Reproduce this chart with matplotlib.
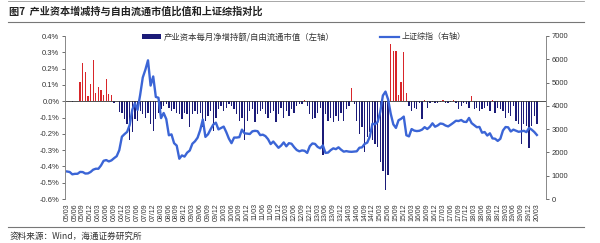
import matplotlib
matplotlib.use("Agg")
import matplotlib.pyplot as plt
from matplotlib.patches import Patch
from matplotlib.lines import Line2D
from matplotlib.ticker import FuncFormatter
import numpy as np

plt.rcParams['font.family'] = ['Liberation Sans', 'Noto Sans CJK SC', 'DejaVu Sans']
plt.rcParams['axes.unicode_minus'] = False

# ---------------- data ----------------
# months 2005/03 ... 2020/03 (monthly)
years = list(range(2005, 2021))
months = [(y, m) for y in years for m in range(1, 13) if (y, m) >= (2005, 3) and (y, m) <= (2020, 3)]
tick_labels = [f"{y % 100:02d}/{m:02d}" for (y, m) in months if m in (3, 6, 9, 12)]

# net increase/decrease of holdings by industrial capital / free-float market cap (%), left axis
ratio_2005 = [0.0, 0.002, -0.003, 0.002, 0.0, 0.12, 0.237, 0.18, 0.03, 0.107]
ratio_2006 = [0.255, 0.05, 0.09, 0.066, 0.04, 0.134, 0.047, 0.04, -0.01, 0.0, -0.064, -0.07]
ratio_2007 = [-0.11, -0.14, -0.24, -0.19, -0.11, -0.12, -0.06, -0.08, -0.10, -0.07, -0.14, -0.18]
ratio_2008 = [-0.11, -0.07, -0.05, -0.03, -0.02, -0.04, -0.06, -0.05, -0.07, -0.08, -0.11, -0.07]
ratio_2009 = [-0.08, -0.16, -0.08, -0.06, -0.08, -0.07, -0.16, -0.12, -0.09, -0.06, -0.18, -0.10]
ratio_2010 = [-0.05, -0.03, -0.06, -0.04, -0.02, -0.03, -0.05, -0.08, -0.12, -0.10, -0.24, -0.12]
ratio_2011 = [-0.06, -0.05, -0.13, -0.08, -0.06, -0.05, -0.08, -0.10, -0.07, -0.06, -0.13, -0.08]
ratio_2012 = [-0.04, -0.10, -0.06, -0.09, -0.05, -0.07, -0.03, -0.02, -0.02, 0.01, -0.03, -0.08]
ratio_2013 = [-0.11, -0.10, -0.07, -0.04, -0.33, -0.08, -0.12, -0.10, -0.13, -0.09, -0.12, -0.07]
ratio_2014 = [-0.12, -0.05, -0.03, 0.084, -0.02, -0.12, -0.20, -0.16, -0.31, -0.22, -0.19, -0.24]
ratio_2015 = [-0.26, -0.28, -0.37, -0.43, -0.545, -0.45, 0.35, 0.31, 0.31, 0.04, 0.12, 0.30]
ratio_2016 = [0.05, -0.03, -0.06, -0.04, -0.05, -0.01, -0.11, 0.01, -0.04, -0.01, -0.005, -0.01]
ratio_2017 = [-0.01, -0.005, 0.005, -0.01, -0.01, -0.005, 0.01, -0.01, -0.05, -0.03, -0.01, -0.02]
ratio_2018 = [-0.04, 0.03, -0.05, -0.04, -0.06, -0.05, -0.04, -0.03, -0.06, 0.01, -0.07, -0.04]
ratio_2019 = [-0.05, -0.06, -0.10, -0.07, -0.09, -0.03, -0.12, -0.14, -0.26, -0.14, -0.15, -0.29]
ratio_2020 = [-0.15, -0.09, -0.14]

# Shanghai Composite Index, monthly close, right axis
sh_2005 = [1181, 1159, 1060, 1081, 1083, 1163, 1156, 1093, 1100, 1161]
sh_2006 = [1259, 1300, 1299, 1441, 1642, 1672, 1613, 1658, 1753, 1838, 2099, 2675]
sh_2007 = [2786, 2882, 3184, 3841, 4110, 3821, 4472, 5219, 5553, 5955, 4871, 5262]
sh_2008 = [4383, 4349, 3473, 3693, 3433, 2736, 2776, 2397, 2294, 1729, 1872, 1821]
sh_2009 = [1991, 2082, 2373, 2478, 2633, 2959, 3412, 2667, 2779, 2996, 3195, 3277]
sh_2010 = [2989, 3051, 3110, 2871, 2592, 2398, 2638, 2639, 2656, 2979, 2820, 2808]
sh_2011 = [2791, 2906, 2928, 2912, 2743, 2762, 2701, 2568, 2359, 2469, 2333, 2199]
sh_2012 = [2293, 2429, 2263, 2397, 2373, 2225, 2103, 2047, 2086, 2069, 1980, 2269]
sh_2013 = [2385, 2366, 2237, 2178, 2301, 1979, 1994, 2098, 2175, 2141, 2220, 2116]
sh_2014 = [2033, 2056, 2033, 2026, 2039, 2048, 2202, 2217, 2364, 2420, 2683, 3235]
sh_2015 = [3210, 3310, 3748, 4442, 4612, 4277, 3664, 3206, 3053, 3383, 3445, 3539]
sh_2016 = [2738, 2688, 3004, 2938, 2917, 2930, 2979, 3085, 3005, 3100, 3250, 3104]
sh_2017 = [3159, 3242, 3223, 3155, 3117, 3192, 3273, 3361, 3349, 3393, 3317, 3307]
sh_2018 = [3481, 3259, 3169, 3082, 3095, 2847, 2876, 2725, 2821, 2603, 2588, 2494]
sh_2019 = [2585, 2941, 3091, 3078, 2899, 2979, 2933, 2886, 2905, 2929, 2872, 3050]
sh_2020 = [2977, 2880, 2750]

ratio = np.array(ratio_2005 + ratio_2006 + ratio_2007 + ratio_2008 + ratio_2009 + ratio_2010 +
                 ratio_2011 + ratio_2012 + ratio_2013 + ratio_2014 + ratio_2015 + ratio_2016 +
                 ratio_2017 + ratio_2018 + ratio_2019 + ratio_2020)
shindex = np.array(sh_2005 + sh_2006 + sh_2007 + sh_2008 + sh_2009 + sh_2010 + sh_2011 +
                   sh_2012 + sh_2013 + sh_2014 + sh_2015 + sh_2016 + sh_2017 + sh_2018 +
                   sh_2019 + sh_2020)

title = "图7  产业资本增减持与自由流通市值比值和上证综指对比"
legend_bar = "产业资本每月净增持额/自由流通市值（左轴）"
legend_line = "上证综指（右轴）"
source = "资料来源：Wind，海通证券研究所"

# ---------------- figure ----------------
W, H = 600, 243
fig = plt.figure(figsize=(W / 100, H / 100), dpi=100)
ax = fig.add_axes([65 / W, 1 - 199 / H, (546 - 65) / W, (199 - 36) / H])
ax2 = ax.twinx()

x = np.arange(len(months))
navy = "#1b1b78"
red = "#d8262a"
colors = [red if v > 0 else navy for v in ratio]
ax.bar(x, ratio, width=0.5, color=colors, linewidth=0)
ax.axhline(0, color="#333333", lw=0.6, zorder=3)

ax.set_ylim(-0.6, 0.4)
ax.set_yticks(np.arange(-0.6, 0.41, 0.1))
ax.yaxis.set_major_formatter(FuncFormatter(lambda v, p: f"{v:.1f}%" if abs(v) > 1e-9 else "0.0%"))
ax.set_xlim(-0.8, 183.5)
tick_pos = [i for i, (y, m) in enumerate(months) if m in (3, 6, 9, 12)]
ax.set_xticks(tick_pos)
ax.set_xticklabels(tick_labels, rotation=90, fontsize=5, color="#333333")
ax.tick_params(axis="x", length=0, pad=3)
ax.tick_params(axis="y", labelsize=5.5, colors="#333333", length=2, width=0.5, pad=2)

ax2.plot(x, shindex, color="#3b65d6", lw=1.7, solid_joinstyle="round")
ax2.set_ylim(0, 7000)
ax2.set_yticks(np.arange(0, 7001, 1000))
ax2.tick_params(axis="y", labelsize=5.5, colors="#333333", length=2, width=0.5, pad=2)

for a in (ax, ax2):
    a.spines["top"].set_visible(False)
    a.spines["bottom"].set_visible(False)
    a.spines["left"].set_color("#888888")
    a.spines["right"].set_color("#888888")
    a.spines["left"].set_linewidth(0.6)
    a.spines["right"].set_linewidth(0.6)
    a.patch.set_visible(False)

# legends
h1 = Patch(facecolor=navy, edgecolor="none")
h2 = Line2D([0], [0], color="#3b65d6", lw=1.6)
fig.legend([h1], [legend_bar], loc="center left", bbox_to_anchor=(142 / W, 1 - 37 / H),
           frameon=False, prop={"family": ["Noto Sans CJK SC", "DejaVu Sans"], "size": 6.0},
           handlelength=2.3, handleheight=0.45, handletextpad=0.3,
           borderaxespad=0, borderpad=0, labelcolor="#333333")
fig.legend([h2], [legend_line], loc="center left", bbox_to_anchor=(380 / W, 1 - 37 / H),
           frameon=False, prop={"family": ["Noto Sans CJK SC", "DejaVu Sans"], "size": 5.8},
           handlelength=2.4, handletextpad=0.3,
           borderaxespad=0, borderpad=0, labelcolor="#333333")

# title & rules
fig.text(9 / W, 1 - 12 / H, title, fontsize=7.3, fontweight="bold", color="#222222",
         family=["Noto Sans CJK SC", "DejaVu Sans"], va="center", ha="left")
fig.add_artist(Line2D([8 / W, 584 / W], [1 - 1 / H, 1 - 1 / H], color="#999999", lw=0.6))
fig.add_artist(Line2D([8 / W, 584 / W], [1 - 22 / H, 1 - 22 / H], color="#777777", lw=0.8))
fig.add_artist(Line2D([8 / W, 584 / W], [1 - 227 / H, 1 - 227 / H], color="#777777", lw=0.8))
fig.text(10 / W, 1 - 236 / H, source, fontsize=6.2, color="#333333",
         family=["Noto Sans CJK SC", "DejaVu Sans"], va="center", ha="left")

fig.savefig("out.png", dpi=100)
